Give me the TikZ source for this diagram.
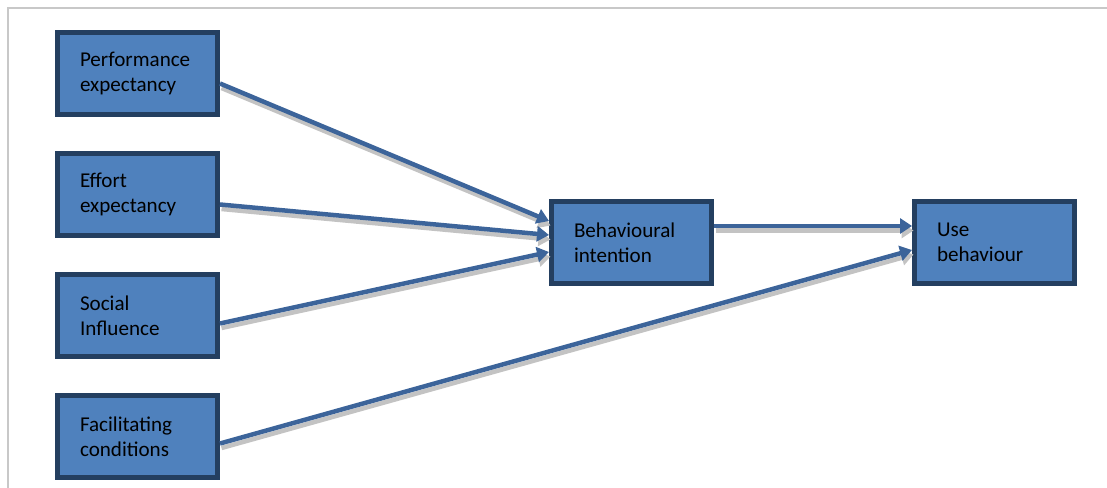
\documentclass[tikz,border=0pt]{standalone}
\usepackage{fontspec}
\setmainfont{Carlito}
\usepackage{xcolor}
\usepackage{tikz}
\usetikzlibrary{arrows.meta, positioning}
\definecolor{boxfill}{RGB}{79,129,189}
\definecolor{boxline}{RGB}{36,63,96}
\definecolor{linkcol}{RGB}{60,100,154}
\definecolor{shadecol}{RGB}{195,195,195}
\definecolor{framecol}{RGB}{200,200,200}

\begin{document}
\begin{tikzpicture}[
  node distance=0.68cm,
  box/.style={rectangle, draw=boxline, fill=boxfill, line width=0.1cm, minimum width=3.2cm,
              minimum height=1.64cm, text width=2.3cm, inner xsep=0.45cm, align=left,
              font=\fontsize{12pt}{14.4pt}\selectfont},
  arrow/.style={-{Triangle[length=0.24cm, width=0.3cm]}, draw=linkcol, line width=0.09cm},
  shade/.style={arrow, draw=shadecol}]

  \useasboundingbox (0,0) rectangle (22.14,-9.76);
  \draw[framecol, line width=0.04cm] (0.16,-9.76) -- (0.16,-0.16) -- (22.14,-0.16);

  \node[box] (PE) at (2.75,-1.47) {Performance\\expectancy};
  \node[box, below=of PE] (EE) {Effort\\expectancy};
  \node[box, below=of EE] (SI) {Social\\Influence};
  \node[box, below=of SI] (FC) {Facilitating\\conditions};
  \node[box] (BI) at (12.63,-4.85) {Behavioural\\intention};
  \node[box, right=3.96cm of BI] (UB) {Use\\behaviour};

  % grey shadows under the links
  \begin{scope}[transform canvas={xshift=0.03cm, yshift=-0.09cm}]
    \draw[shade] ([yshift=-0.2cm]PE.east) -- ([yshift=0.43cm]BI.west);
    \draw[shade] ([yshift=-0.2cm]EE.east) -- ([yshift=0.15cm]BI.west);
    \draw[shade] ([yshift=-0.16cm]SI.east) -- ([yshift=-0.19cm]BI.west);
    \draw[shade] ([yshift=0.33cm]BI.east) -- ([yshift=0.33cm]UB.west);
    \draw[shade] ([yshift=-0.14cm]FC.east) -- ([yshift=-0.15cm]UB.west);
  \end{scope}

  \draw[arrow] ([yshift=-0.2cm]PE.east) -- ([yshift=0.43cm]BI.west);
  \draw[arrow] ([yshift=-0.2cm]EE.east) -- ([yshift=0.15cm]BI.west);
  \draw[arrow] ([yshift=-0.16cm]SI.east) -- ([yshift=-0.19cm]BI.west);
  \draw[arrow] ([yshift=0.33cm]BI.east) -- ([yshift=0.33cm]UB.west);
  \draw[arrow] ([yshift=-0.14cm]FC.east) -- ([yshift=-0.15cm]UB.west);
\end{tikzpicture}
\end{document}
